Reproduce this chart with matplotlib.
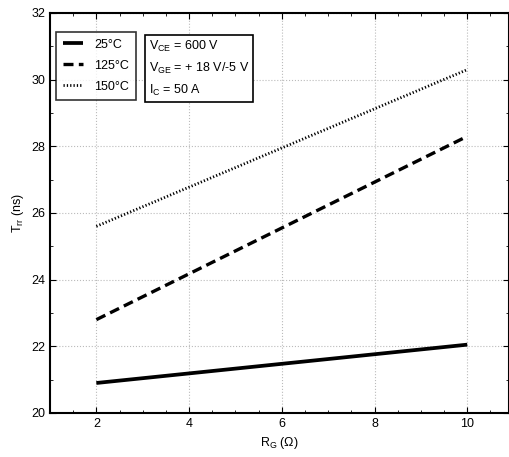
import matplotlib
matplotlib.use("Agg")
import matplotlib.pyplot as plt
from matplotlib.ticker import MultipleLocator

plt.rcParams['font.family'] = ['Liberation Sans', 'DejaVu Sans']

rg = [2, 10]
t25 = [20.9, 22.05]
t125 = [22.8, 28.3]
t150 = [25.6, 30.3]
labels = ['25°C', '125°C', '150°C']

fig = plt.figure(figsize=(5.1, 4.57), dpi=100)
ax = fig.add_axes([0.098, 0.0963, 0.9, 0.8753])

ax.plot(rg, t25, color='black', lw=2.7, solid_capstyle='butt', label=labels[0])
ax.plot(rg, t125, color='black', lw=2.4, ls=(0, (3.0, 1.6)), label=labels[1])
ax.plot(rg, t150, color='black', lw=2.0, ls=(0, (0.45, 0.75)), label=labels[2])

ax.set_xlim(1, 10.9)
ax.set_ylim(20, 32)
ax.xaxis.set_major_locator(MultipleLocator(2))
ax.xaxis.set_minor_locator(MultipleLocator(0.5))
ax.yaxis.set_major_locator(MultipleLocator(2))
ax.yaxis.set_minor_locator(MultipleLocator(1))
ax.tick_params(which='both', direction='in', top=True, right=True, labelsize=9)
ax.tick_params(which='major', length=4)
ax.tick_params(which='minor', length=2.5)
ax.grid(True, which='major', ls=':', color='#bbbbbb', lw=0.8)
for s in ax.spines.values():
    s.set_linewidth(1.5)

ax.set_xlabel('R$_\\mathregular{G}$ (Ω)', fontsize=9)
ax.set_ylabel('T$_\\mathregular{rr}$ (ns)', fontsize=9)

leg = ax.legend(loc='upper left', bbox_to_anchor=(0.013, 0.9525), fontsize=9,
                frameon=True, fancybox=False, edgecolor='black', handlelength=1.6,
                handletextpad=0.9, borderpad=0.55, labelspacing=0.72, borderaxespad=0)
leg.get_frame().set_linewidth(1.2)

ax.text(0.216, 0.935, 'V$_\\mathregular{CE}$ = 600 V\nV$_\\mathregular{GE}$ = + 18 V/-5 V\nI$_\\mathregular{C}$ = 50 A',
        transform=ax.transAxes, fontsize=9, va='top', ha='left', linespacing=1.62,
        bbox=dict(boxstyle='square,pad=0.3', fc='white', ec='black', lw=1.2))

fig.savefig('out.png', dpi=100)
